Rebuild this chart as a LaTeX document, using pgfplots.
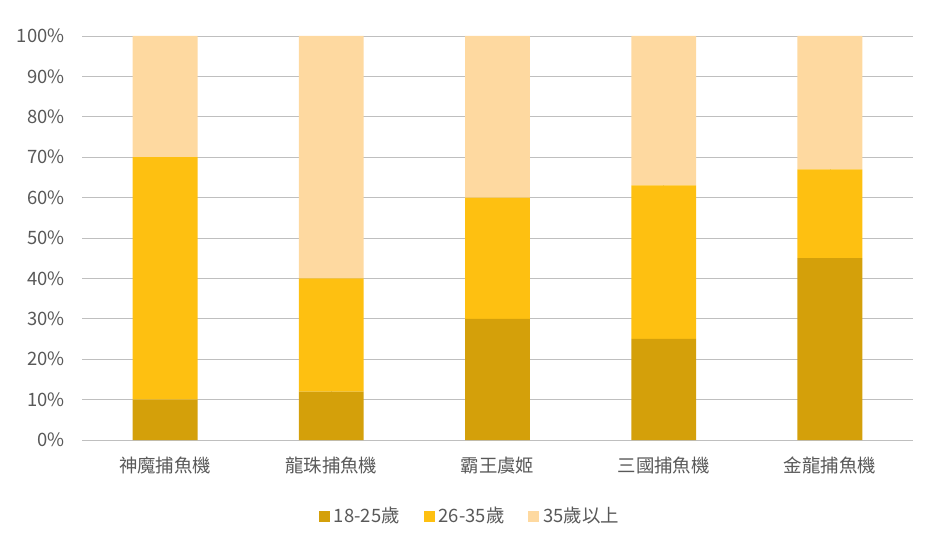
\documentclass[border=0pt]{standalone}
\usepackage{pgfplots}
\pgfplotsset{compat=1.18}
\usepackage{fontspec}
\setmainfont{Noto Sans CJK TC}
\definecolor{cDark}{RGB}{212,160,10}
\definecolor{cMid}{RGB}{254,192,17}
\definecolor{cLight}{RGB}{254,217,160}
\definecolor{txt}{RGB}{89,89,89}
\definecolor{grid}{RGB}{217,217,217}
\begin{document}
\begin{tikzpicture}
\path[use as bounding box] (-82bp,-104bp) rectangle (861bp,440bp);
\begin{axis}[
  scale only axis, width=831bp, height=404bp,
  ybar stacked, bar width=0.39,
  xmin=-0.5, xmax=4.5, ymin=0, ymax=100,
  xtick={0,1,2,3,4},
  xticklabels={神魔捕魚機,龍珠捕魚機,霸王虞姬,三國捕魚機,金龍捕魚機},
  ytick={0,10,...,100},
  yticklabel={\pgfmathprintnumber{\tick}\%},
  /pgf/number format/assume math mode=true,
  ymajorgrids, grid style={grid, line width=0.8pt},
  axis line style={draw=none},
  major tick length=0pt,
  tick label style={font=\fontsize{18.5}{21}\selectfont, text=txt},
  yticklabel style={xshift=-14bp},
  xticklabel style={yshift=-16bp, text height=13bp, text depth=3bp},
  legend style={at={(0.467,-0.188)}, anchor=center, draw=none, legend columns=3,
    font=\fontsize{18.5}{21}\selectfont, text=txt,
    /tikz/every odd column/.append style={column sep=2bp},
    /tikz/every even column/.append style={column sep=22bp}},
  legend image code/.code={\fill[#1,draw=none] (0bp,-6bp) rectangle (11bp,5bp);},
  clip=false,
]
\addplot[fill=cDark, draw=none] coordinates {(0,10) (1,12) (2,30) (3,25) (4,45)};
\addplot[fill=cMid, draw=none] coordinates {(0,60) (1,28) (2,30) (3,38) (4,22)};
\addplot[fill=cLight, draw=none] coordinates {(0,30) (1,60) (2,40) (3,37) (4,33)};
\legend{18-25歲,26-35歲,35歲以上}
\end{axis}
\end{tikzpicture}
\end{document}
